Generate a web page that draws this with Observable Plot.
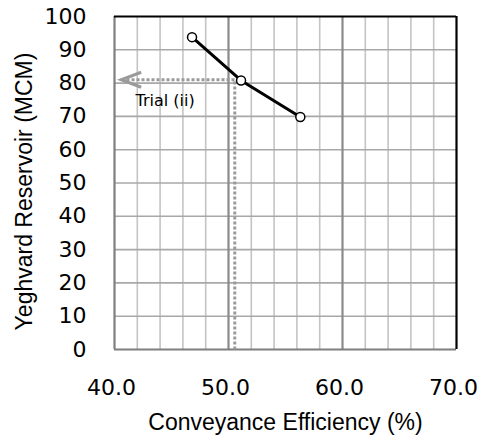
<!DOCTYPE html>
<html>
<head>
<meta charset="utf-8">
<script src="https://cdn.jsdelivr.net/npm/d3@7"></script>
<script src="https://cdn.jsdelivr.net/npm/@observablehq/plot@0.6"></script>
<style>
  html, body { margin: 0; padding: 0; background: white; }
</style>
</head>
<body>
<div id="chart"></div>
<script>
// Data
const efficiency = [46.8, 51.1, 56.3];          // Conveyance Efficiency (%)
const storage = [93.8, 80.8, 69.8];             // Yeghvard Reservoir (MCM)
const trialPathX = [50.55, 50.55, 40.5];        // dotted guide: up from axis, then left to arrow tip
const trialPathY = [0, 81, 81];
const trialLabel = ["Trial (ii)"];
const trialLabelX = [41.85];
const trialLabelY = [74.8];

// Axes / grid
const xTicks = [40, 50, 60, 70];
const xMinor = [42, 44, 46, 48, 52, 54, 56, 58, 62, 64, 66, 68];
const xMajorInner = [50, 60];
const yTicks = [0, 10, 20, 30, 40, 50, 60, 70, 80, 90, 100];
const yInner = [10, 20, 30, 40, 50, 60, 70, 80, 90];
const xTitle = ["Conveyance Efficiency (%)"];
const yTitle = ["Yeghvard Reservoir (MCM)"];

const points = efficiency.map((x, i) => ({x, y: storage[i]}));
const trialPath = trialPathX.map((x, i) => ({x, y: trialPathY[i]}));
const labels = trialLabel.map((t, i) => ({t, x: trialLabelX[i], y: trialLabelY[i]}));

// custom open chevron arrowhead (solid even when the line is dotted)
function chevron(color, context) {
  const ns = "http://www.w3.org/2000/svg";
  const m = context.document.createElementNS(ns, "marker");
  m.setAttribute("viewBox", "-26 -11 30 22");
  m.setAttribute("markerWidth", 30);
  m.setAttribute("markerHeight", 22);
  m.setAttribute("markerUnits", "userSpaceOnUse");
  m.setAttribute("refX", 0);
  m.setAttribute("refY", 0);
  m.setAttribute("orient", "auto");
  m.setAttribute("overflow", "visible");
  const p = context.document.createElementNS(ns, "path");
  p.setAttribute("d", "M-21,-7.5L-1,0L-21,7.5");
  p.setAttribute("fill", "none");
  p.setAttribute("stroke", color);
  p.setAttribute("stroke-width", 3);
  p.setAttribute("stroke-dasharray", "none");
  p.setAttribute("stroke-linejoin", "miter");
  m.appendChild(p);
  return m;
}

const font = "'Liberation Sans', Arial, sans-serif";
const tickFont = "'DejaVu Sans', sans-serif";

const chart = Plot.plot({
  width: 480,
  height: 441,
  marginLeft: 114,
  marginRight: 24,
  marginTop: 16,
  marginBottom: 92,
  style: {fontFamily: font, color: "black", background: "white"},
  x: {domain: [40, 70]},
  y: {domain: [0, 100]},
  marks: [
    // grid
    Plot.ruleX(xMinor, {stroke: "#c4c4c4", strokeWidth: 1.6}),
    Plot.ruleY(yInner, {stroke: "#a8a8a8", strokeWidth: 1.6}),
    Plot.ruleX(xMajorInner, {stroke: "#8a8a8a", strokeWidth: 2.2}),
    // frame
    Plot.ruleX([40], {stroke: "#7f7f7f", strokeWidth: 2.2}),
    Plot.ruleY([0], {stroke: "#7f7f7f", strokeWidth: 2.2}),
    Plot.ruleY([100], {stroke: "black", strokeWidth: 2.2}),
    Plot.ruleX([70], {stroke: "black", strokeWidth: 2.2}),
    // axes
    Plot.axisX(xTicks, {tickFormat: d => d.toFixed(1), tickSize: 0, tickPadding: 30, fontSize: 22, fontFamily: tickFont, dx: -3, label: null}),
    Plot.axisY(yTicks, {tickSize: 0, tickPadding: 28, fontSize: 22, fontFamily: tickFont, label: null}),
    Plot.text(xTitle, {text: d => d, frameAnchor: "bottom", lineAnchor: "middle", dy: 73, fontSize: 23}),
    Plot.text(yTitle, {text: d => d, frameAnchor: "left", textAnchor: "middle", lineAnchor: "middle", rotate: -90, dx: -90, dy: 8.5, fontSize: 23}),
    // trial guide
    Plot.line(trialPath, {x: "x", y: "y", stroke: "#9a9a9a", strokeWidth: 3, strokeDasharray: "3 2", strokeLinecap: "butt", markerEnd: chevron}),
    Plot.text(labels, {x: "x", y: "y", text: "t", textAnchor: "start", fontSize: 16, fontFamily: tickFont}),
    // series
    Plot.line(points, {x: "x", y: "y", stroke: "black", strokeWidth: 3}),
    Plot.dot(points, {x: "x", y: "y", r: 4.5, fill: "white", stroke: "black", strokeWidth: 1.5})
  ]
});
document.getElementById("chart").appendChild(chart);
</script>
</body>
</html>
